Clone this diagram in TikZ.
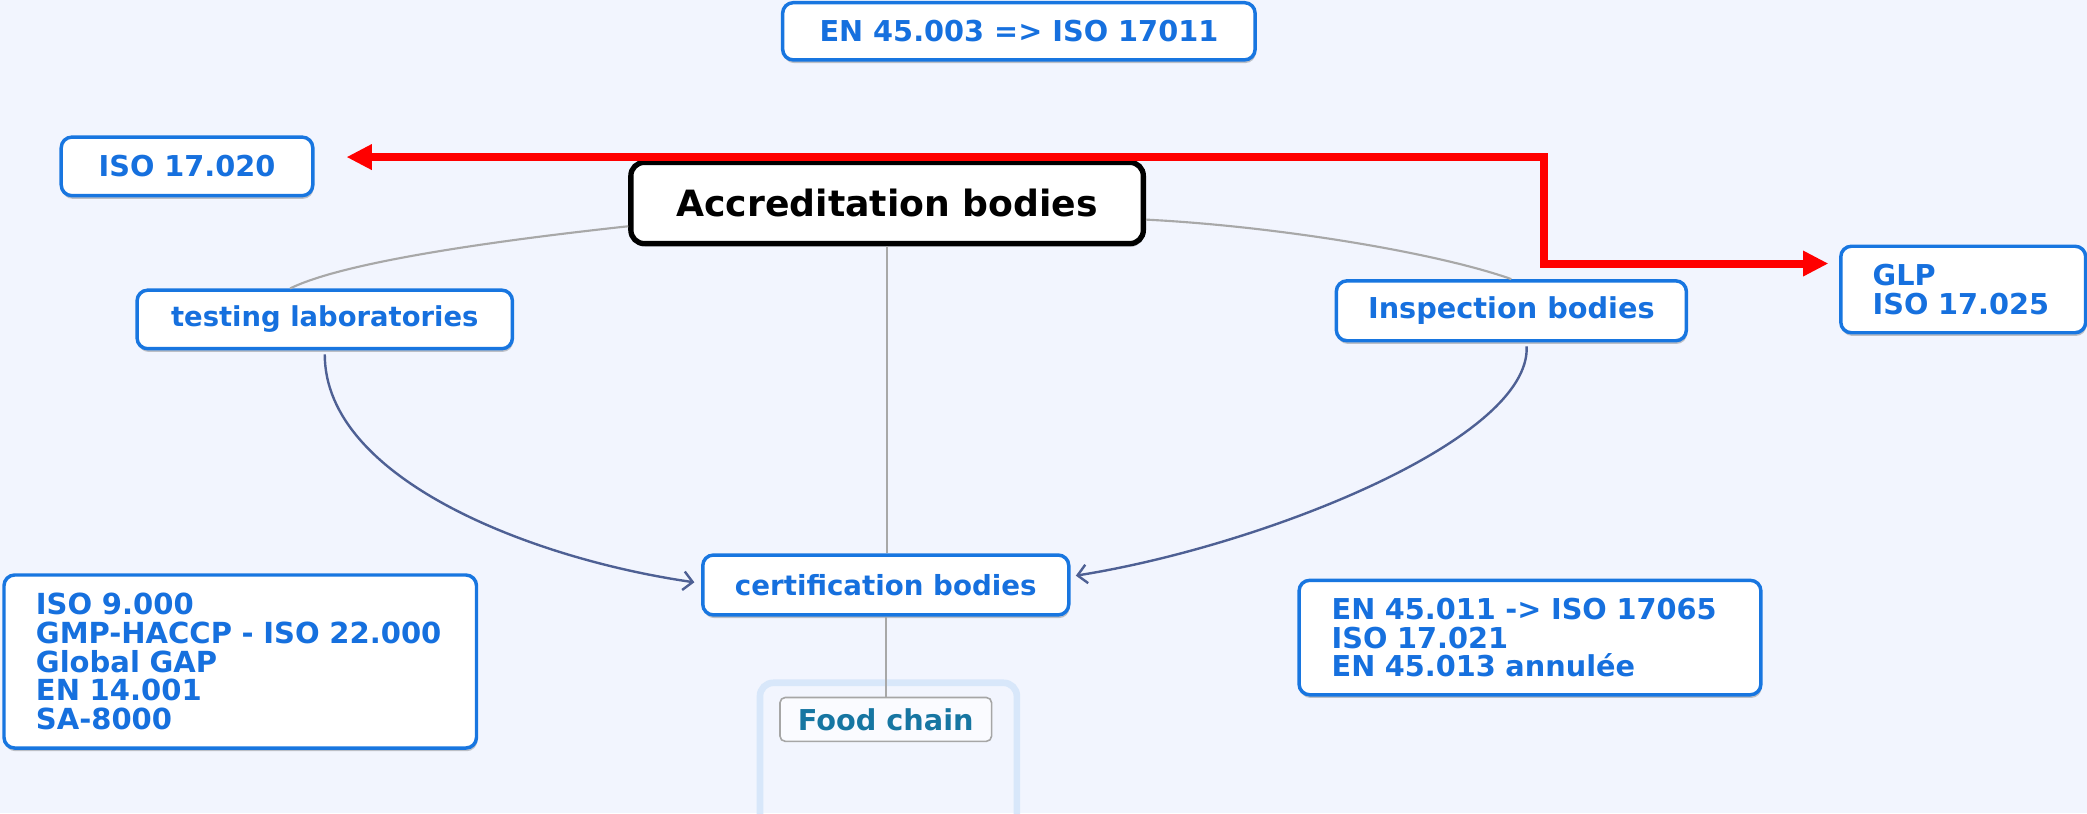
\documentclass[tikz,border=0pt]{standalone}
\usepackage{fontspec}
\setmainfont{DejaVu Sans}
\usetikzlibrary{arrows.meta,shadows,calc}
\definecolor{bg}{RGB}{242,245,254}
\definecolor{nodeblue}{RGB}{24,118,224}
\definecolor{textblue}{RGB}{22,112,222}
\definecolor{curveblue}{RGB}{78,96,148}
\definecolor{linegray}{RGB}{168,168,168}
\definecolor{foodtext}{RGB}{22,118,162}
\definecolor{foodframe}{RGB}{216,231,250}
\definecolor{arrowred}{RGB}{255,0,0}
\tikzset{
  bluebox/.style={draw=nodeblue, line width=1.3pt, fill=white, rounded corners=4pt,
    text=textblue, font=\bfseries\fontsize{10.8}{10.8}\selectfont,
    drop shadow={shadow xshift=0.3pt, shadow yshift=-1.2pt, fill=black, opacity=0.22},
    inner sep=0pt, align=center},
  listtext/.style={font=\bfseries\fontsize{10.9}{10.85}\selectfont},
  listbox/.style={bluebox, align=left},
  mainbox/.style={draw=black, line width=2pt, fill=white, rounded corners=5pt,
    text=black, font=\bfseries\fontsize{13.6}{14}\selectfont,
    drop shadow={shadow xshift=0.3pt, shadow yshift=-1.2pt, fill=black, opacity=0.25},
    minimum width=192.5pt, minimum height=30.5pt, inner sep=0pt},
  grayline/.style={draw=linegray, line width=0.8pt},
  bluecurve/.style={draw=curveblue, line width=0.9pt, -{Straight Barb[length=3.5pt,width=7pt]}},
  redarrow/.style={draw=arrowred, line width=3pt,
    {Triangle[length=9.5pt,width=9pt]}-{Triangle[length=9.5pt,width=9pt]}},
}
\begin{document}
\begin{tikzpicture}[x=0.5pt,y=-0.5pt]
\fill[bg] (0,0) rectangle (1568,611);
\useasboundingbox (0,0) rectangle (1568,611);

% food chain frame
\draw[foodframe, line width=2.5pt, rounded corners=5pt] (571,513) rectangle (764,625);

% nodes
\node[bluebox, minimum width=177.5pt, minimum height=21.5pt] (en003) at (765.5,23.5) {EN 45.003 => ISO 17011};
\node[bluebox, minimum width=94.5pt, minimum height=22pt] (iso020) at (140.5,125) {ISO 17.020};
\node[mainbox] (acc) at (666.5,152.5) {Accreditation bodies};
\node[bluebox, font=\bfseries\fontsize{10.3}{10.5}\selectfont, minimum width=141pt, minimum height=22pt] (testing) at (244,240) {testing laboratories};
\node[bluebox, minimum width=131.5pt, minimum height=22.5pt] (insp) at (1135.5,233.5) {Inspection bodies};
\node[listbox, minimum width=92pt, minimum height=32.5pt, text width=68pt, inner xsep=12pt] (glp) at (1475,217.5) {GLP\\ISO 17.025};
\node[bluebox, font=\bfseries\fontsize{10.4}{10.5}\selectfont, minimum width=137.5pt, minimum height=22.5pt] (cert) at (665.5,439.5) {certification bodies};
\node[listbox, listtext, minimum width=177.5pt, minimum height=65pt, text width=153.5pt, inner xsep=12pt] (left) at (180.5,497) {ISO 9.000\\GMP-HACCP - ISO 22.000\\Global GAP\\EN 14.001\\SA-8000};
\node[listbox, font=\bfseries\fontsize{10.8}{10.85}\selectfont, minimum width=173.5pt, minimum height=43pt, text width=149pt, inner xsep=12.25pt] (right) at (1149.5,479) {EN 45.011 -> ISO 17065\\ISO 17.021\\EN 45.013 annulée};
\node[draw=black!35, line width=0.6pt, fill=white!60!bg, rounded corners=2pt, text=foodtext,
  font=\bfseries\fontsize{10.8}{10.8}\selectfont, minimum width=79.5pt, minimum height=16.5pt, inner sep=0pt] (food) at (665.5,540.5) {Food chain};

% gray connectors
\draw[grayline] ($(acc.south west)+(0,-15)$) .. controls (380,180) and (260,196) .. ($(testing.north)+(-26,0)$);
\draw[grayline] ($(acc.south east)+(0,-20)$) .. controls (960,170) and (1080,190) .. (insp.north);
\draw[grayline] (acc.south) -- (acc.south |- cert.north);
\draw[grayline] (cert.south) -- (food.north);

% blue curved arrows
\draw[bluecurve] ($(testing.south)+(0,3)$) .. controls (244,360) and (400,420) .. ($(cert.west)+(-5,-2)$);
\draw[bluecurve] ($(insp.south)+(11.5,3)$) .. controls (1150,330) and (950,410) .. ($(cert.east)+(4,-7)$);

% red elbow arrow
\coordinate (rl) at ($(iso020.east)+(24,-7)$);
\coordinate (rr) at ($(glp.west)+(-8,-19.5)$);
\draw[redarrow] (rl) -| (1160,198) -- (rr);
\end{tikzpicture}
\end{document}
